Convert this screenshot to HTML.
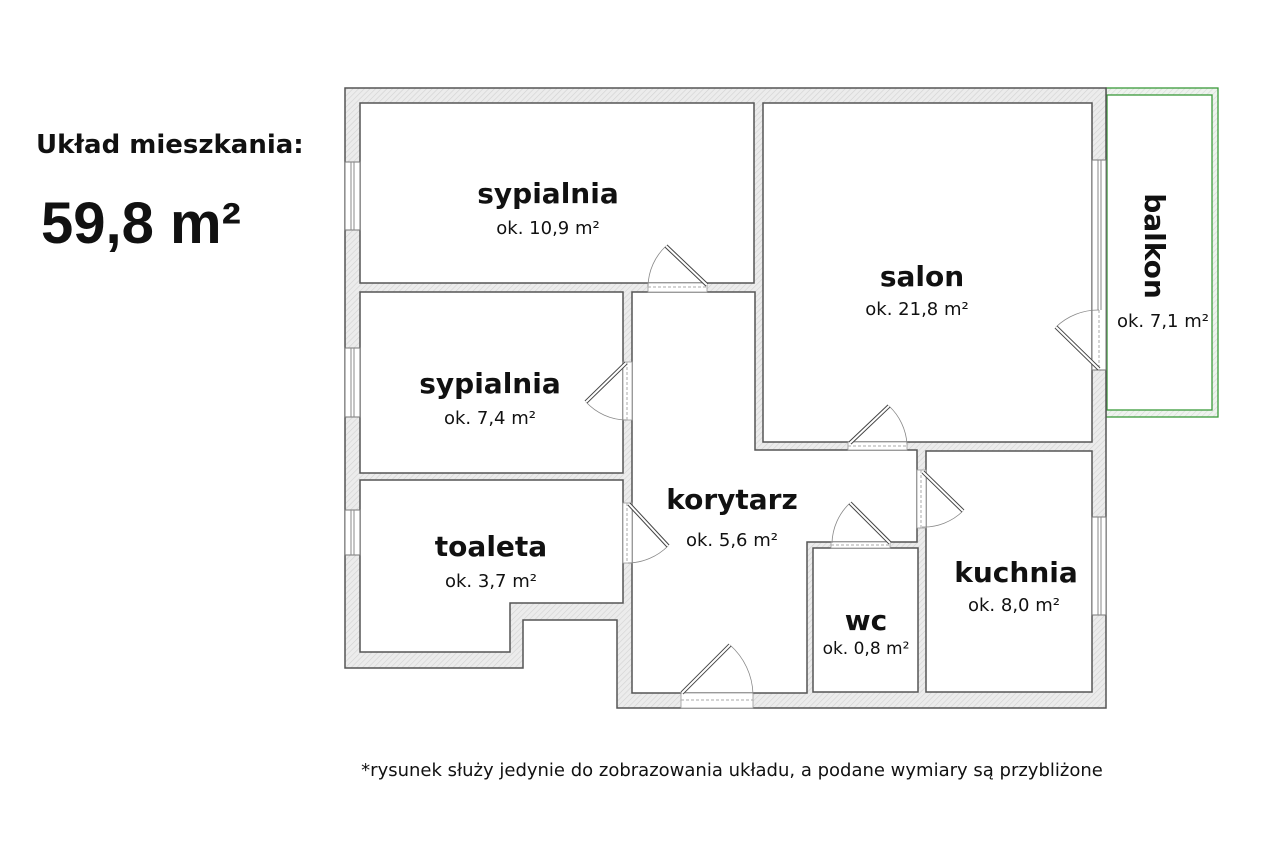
<!DOCTYPE html>
<html><head><meta charset="utf-8"><style>
html,body{margin:0;padding:0;background:#fff;}
svg{display:block;font-family:"DejaVu Sans","Liberation Sans",sans-serif;}
.b{font-weight:bold;fill:#111;}
.s{fill:#111;}
</style></head><body>
<svg width="1280" height="853" viewBox="0 0 1280 853" xmlns="http://www.w3.org/2000/svg">
<defs>
<pattern id="h" width="4" height="4" patternUnits="userSpaceOnUse" patternTransform="rotate(45)">
<rect width="4" height="4" fill="#ececec"/><line x1="0" y1="0" x2="0" y2="4" stroke="#d2d2d2" stroke-width="1.2"/>
</pattern>
<pattern id="hg" width="4" height="4" patternUnits="userSpaceOnUse" patternTransform="rotate(45)">
<rect width="4" height="4" fill="#eef3ee"/><line x1="0" y1="0" x2="0" y2="4" stroke="#d5dcd5" stroke-width="1.2"/>
</pattern>
</defs>
<rect width="1280" height="853" fill="#fff"/>

<rect x="1106" y="88" width="112" height="329" fill="url(#hg)" stroke="#3a9a3a" stroke-width="1.3"/>
<rect x="1107" y="95" width="105" height="315" fill="#fff" stroke="#3a9a3a" stroke-width="1.3"/>

<polygon points="345,88 1106,88 1106,708 617,708 617,620 523,620 523,668 345,668" fill="url(#h)" stroke="#555" stroke-width="1.5"/>
<g fill="#fff" stroke="#555" stroke-width="1.5">
<rect x="360" y="103" width="394" height="180"/>
<rect x="360" y="292" width="263" height="181"/>
<polygon points="360,480 623,480 623,603 510,603 510,652 360,652"/>
<polygon points="632,292 755,292 755,450 917,450 917,542 807,542 807,693 632,693"/>
<rect x="763" y="103" width="329" height="339"/>
<rect x="813" y="548" width="105" height="144"/>
<rect x="926" y="451" width="166" height="241"/>
</g>

<g fill="#fff" stroke="#777" stroke-width="1">
<rect x="345" y="162" width="15" height="68"/>
<rect x="345" y="348" width="15" height="69"/>
<rect x="345" y="510" width="15" height="45"/>
<rect x="1092" y="160" width="14" height="210"/>
<rect x="1092" y="517" width="14" height="98"/>
</g>
<g stroke="#888" stroke-width="1">
<line x1="351" y1="162" x2="351" y2="230"/><line x1="354" y1="162" x2="354" y2="230"/>
<line x1="351" y1="348" x2="351" y2="417"/><line x1="354" y1="348" x2="354" y2="417"/>
<line x1="351" y1="510" x2="351" y2="555"/><line x1="354" y1="510" x2="354" y2="555"/>
<line x1="1098" y1="160" x2="1098" y2="310"/><line x1="1101" y1="160" x2="1101" y2="310"/>
<line x1="1098" y1="517" x2="1098" y2="615"/><line x1="1101" y1="517" x2="1101" y2="615"/>
</g>

<g fill="#fff" stroke="#999" stroke-width="0.8">
<rect x="648" y="283" width="59" height="9"/>
<rect x="623" y="362" width="9" height="58"/>
<rect x="623" y="503" width="9" height="60"/>
<rect x="848" y="442" width="59" height="8"/>
<rect x="917" y="470" width="9" height="58"/>
<rect x="831" y="542" width="59" height="6"/>
<rect x="681" y="693" width="72" height="15"/>
</g>
<g stroke="#aaa" stroke-width="1" stroke-dasharray="3,2" fill="none">
<line x1="648" y1="287" x2="707" y2="287"/>
<line x1="627" y1="362" x2="627" y2="420"/>
<line x1="627" y1="503" x2="627" y2="563"/>
<line x1="848" y1="446" x2="907" y2="446"/>
<line x1="921" y1="470" x2="921" y2="528"/>
<line x1="831" y1="545" x2="890" y2="545"/>
<line x1="681" y1="700" x2="753" y2="700"/>
<line x1="1099" y1="310" x2="1099" y2="370"/>
</g>

<g fill="none" stroke="#888" stroke-width="0.8">
<path d="M666,246 A57,57 0 0 0 648,286"/>
<path d="M586,402 A56,56 0 0 0 626,420"/>
<path d="M668,546 A58,58 0 0 1 628,563"/>
<path d="M889,406 A57,57 0 0 1 907,444"/>
<path d="M963,511 A56,56 0 0 1 922,527"/>
<path d="M850,503 A57,57 0 0 0 832,543"/>
<path d="M730,645 A68,68 0 0 1 753,694"/>
<path d="M1056,327 A61,61 0 0 1 1099,310"/>
</g>
<g stroke="#444" stroke-width="4" stroke-linecap="butt">
<line x1="707" y1="285" x2="666" y2="246"/>
<line x1="626" y1="363" x2="586" y2="402"/>
<line x1="629" y1="504" x2="668" y2="546"/>
<line x1="850" y1="443" x2="889" y2="406"/>
<line x1="923" y1="472" x2="963" y2="511"/>
<line x1="890" y1="543" x2="850" y2="503"/>
<line x1="682" y1="693" x2="730" y2="645"/>
<line x1="1099" y1="369" x2="1056" y2="327"/>
</g>
<g stroke="#fff" stroke-width="2">
<line x1="707" y1="285" x2="666" y2="246"/>
<line x1="626" y1="363" x2="586" y2="402"/>
<line x1="629" y1="504" x2="668" y2="546"/>
<line x1="850" y1="443" x2="889" y2="406"/>
<line x1="923" y1="472" x2="963" y2="511"/>
<line x1="890" y1="543" x2="850" y2="503"/>
<line x1="682" y1="693" x2="730" y2="645"/>
<line x1="1099" y1="369" x2="1056" y2="327"/>
</g>

<text x="36" y="153" class="b" font-size="26">Układ mieszkania:</text>
<text x="41" y="243" class="b" font-size="58" font-family="Liberation Sans, sans-serif">59,8 m²</text>

<g text-anchor="middle">
<text x="548" y="203" class="b" font-size="28">sypialnia</text>
<text x="548" y="234" class="s" font-size="18">ok. 10,9 m²</text>
<text x="922" y="286" class="b" font-size="28">salon</text>
<text x="917" y="315" class="s" font-size="18">ok. 21,8 m²</text>
<text x="490" y="393" class="b" font-size="28">sypialnia</text>
<text x="490" y="424" class="s" font-size="18">ok. 7,4 m²</text>
<text x="491" y="556" class="b" font-size="28">toaleta</text>
<text x="491" y="587" class="s" font-size="18">ok. 3,7 m²</text>
<text x="732" y="509" class="b" font-size="28">korytarz</text>
<text x="732" y="546" class="s" font-size="18">ok. 5,6 m²</text>
<text x="866" y="630" class="b" font-size="28">wc</text>
<text x="866" y="654" class="s" font-size="17">ok. 0,8 m²</text>
<text x="1016" y="582" class="b" font-size="28">kuchnia</text>
<text x="1014" y="611" class="s" font-size="18">ok. 8,0 m²</text>
<text x="1163" y="327" class="s" font-size="18">ok. 7,1 m²</text>
<text transform="translate(1145,246) rotate(90)" class="b" font-size="28">balkon</text>
<text x="732" y="776" class="s" font-size="18">*rysunek służy jedynie do zobrazowania układu, a podane wymiary są przybliżone</text>
</g>
</svg>
</body></html>
